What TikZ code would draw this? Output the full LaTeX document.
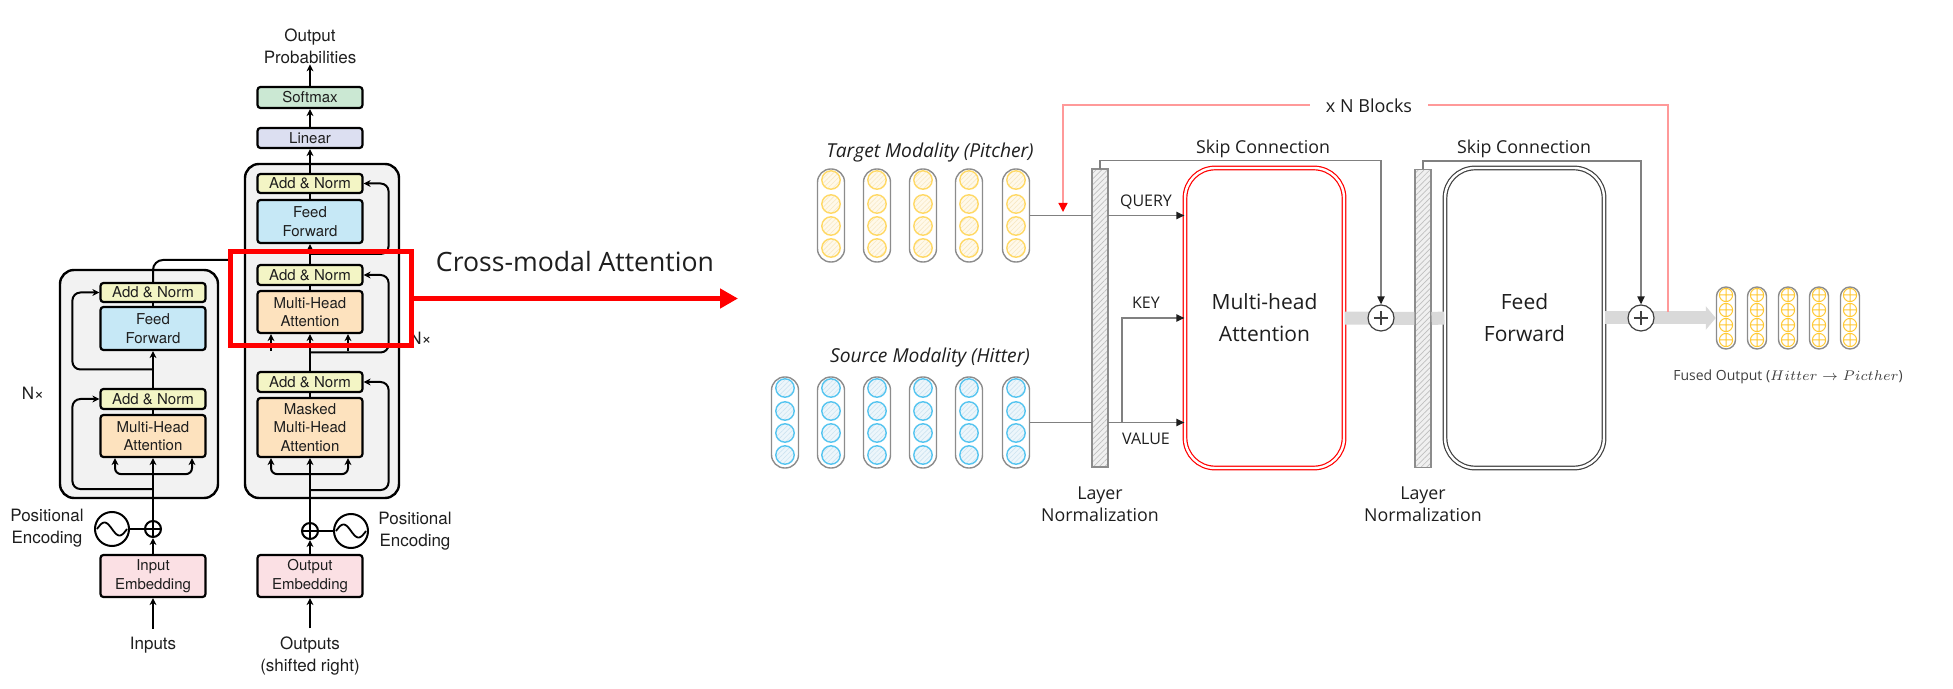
\documentclass[tikz,border=0pt]{standalone}
\usepackage{fontspec}
\newfontfamily\heros{TeX Gyre Heros}
\newfontfamily\opensans{Open Sans}
\usepackage{tikz}
\usetikzlibrary{arrows.meta,positioning,calc,patterns.meta}

\definecolor{stackgrey}{HTML}{F2F2F2}
\definecolor{annorm}{HTML}{F3F5C5}
\definecolor{ffblue}{HTML}{C6E8F6}
\definecolor{attorange}{HTML}{FDE2BE}
\definecolor{embpink}{HTML}{FBE0E4}
\definecolor{smgreen}{HTML}{CBE8D3}
\definecolor{linlav}{HTML}{DCDFF1}
\definecolor{txtdark}{HTML}{1E1E1E}
\definecolor{skipgrey}{HTML}{808080}
\definecolor{bandgrey}{HTML}{D9D9D9}
\definecolor{blockred}{HTML}{FF9999}
\definecolor{pillgrey}{HTML}{8C8C8C}
\definecolor{pitchyel}{HTML}{FFD966}
\definecolor{pitchfill}{HTML}{FFF9EA}
\definecolor{pitchhatch}{HTML}{F8E8C2}
\definecolor{hitblue}{HTML}{56C5F0}
\definecolor{hitfill}{HTML}{EDF6FB}
\definecolor{hithatch}{HTML}{CDE4F1}
\definecolor{barfill}{HTML}{F0F0F0}
\definecolor{barhatch}{HTML}{BFBFBF}
\definecolor{ffgrey}{HTML}{404040}
\definecolor{fuseorange}{HTML}{FFC933}

\tikzset{
    stackbox/.style={
        draw,
        line width=1.2pt,
        rounded corners=7pt,
        fill=stackgrey
    },
    layerbox/.style={
        draw,
        line width=1.1pt,
        rounded corners=1.5pt,
        minimum width=52.5pt,
        inner sep=0pt,
        align=center,
        text=txtdark,
        font=\heros\fontsize{7.5}{9.2}\selectfont
    },
    tflabel/.style={
        align=center,
        inner sep=0pt,
        text=txtdark,
        font=\heros\fontsize{8.5}{11}\selectfont
    },
    addcirc/.style={
        circle,
        draw,
        line width=1pt,
        minimum size=8pt,
        inner sep=0pt,
        fill=white,
        path picture={
            \draw[line width=0.8pt] (path picture bounding box.west) -- (path picture bounding box.east)
                (path picture bounding box.north) -- (path picture bounding box.south);
        }
    },
    sinebox/.style={
        circle,
        draw,
        line width=1pt,
        minimum size=17pt,
        inner sep=0pt,
        fill=white,
        path picture={
            \draw[line width=0.9pt, shift={(path picture bounding box.center)}]
                plot[domain=0:360, samples=30, smooth] ({(\x-180)/360*30}, {-6.5*sin(\x)});
        }
    },
    tfline/.style={
        line width=1pt
    },
    tfarrow/.style={
        -{Stealth[length=3.5pt,width=3.4pt]},
        line width=1pt
    },
    pillbox/.style={
        draw=pillgrey,
        line width=0.7pt,
        rounded corners=6.6pt,
        minimum width=13.5pt,
        inner sep=0pt,
        fill=white
    },
    pitchdot/.style={
        draw=pitchyel,
        line width=0.7pt,
        preaction={fill=pitchfill},
        pattern={Lines[angle=45,distance=1.7pt,line width=0.3pt]},
        pattern color=pitchhatch
    },
    hitdot/.style={
        draw=hitblue,
        line width=0.7pt,
        preaction={fill=hitfill},
        pattern={Lines[angle=45,distance=1.7pt,line width=0.3pt]},
        pattern color=hithatch
    },
    fusedot/.style={
        draw=fuseorange,
        line width=0.5pt
    },
    normbar/.style={
        draw=pillgrey,
        line width=0.6pt,
        minimum width=8pt,
        minimum height=149pt,
        inner sep=0pt,
        preaction={fill=barfill},
        pattern={Lines[angle=45,distance=2pt,line width=0.35pt]},
        pattern color=barhatch
    },
    blockbox/.style={
        double=white,
        double distance=1.2pt,
        line width=0.6pt,
        rounded corners=15pt,
        minimum width=79.5pt,
        minimum height=150pt,
        align=center,
        text=txtdark,
        font=\opensans\fontsize{10.5}{16}\selectfont
    },
    plusnode/.style={
        circle,
        draw=ffgrey,
        line width=0.6pt,
        minimum size=13pt,
        inner sep=0pt,
        fill=white,
        path picture={
            \draw[line width=0.7pt] (path picture bounding box.center) ++(-3.6pt,0) -- ++(7.2pt,0)
                (path picture bounding box.center) ++(0,-3.6pt) -- ++(0,7.2pt);
        }
    },
    rtext/.style={
        align=center,
        inner sep=0pt,
        text=txtdark,
        font=\opensans\fontsize{8.9}{10.8}\selectfont
    },
    skipline/.style={
        draw=skipgrey,
        line width=0.7pt
    },
    skiparrow/.style={
        draw=skipgrey,
        line width=0.7pt,
        -{Triangle[length=4pt,width=3.6pt,color=txtdark]}
    },
    band/.style={
        draw=bandgrey,
        line width=6.5pt
    }
}

\begin{document}
\begin{tikzpicture}[x=0.5pt, y=-0.5pt]
    \useasboundingbox (0,0) rectangle (1953,689);

    \node[stackbox, minimum width=79pt, minimum height=114pt] (encstack) at (139,384) {};
    \node[stackbox, minimum width=77pt, minimum height=167pt] (decstack) at (322,331) {};

    \node[layerbox, fill=annorm, minimum height=9.5pt] (encan2) at (153,292.5) {Add \& Norm};
    \node[layerbox, fill=ffblue, minimum height=21.5pt] (encff) at (153,328.5) {Feed\\Forward};
    \node[layerbox, fill=annorm, minimum height=10pt] (encan1) at (153,399) {Add \& Norm};
    \node[layerbox, fill=attorange, minimum height=21pt] (encmha) at (153,436) {Multi-Head\\Attention};
    \node[addcirc] (encadd) at (153,529) {};
    \node[sinebox] (encpe) at (112,529) {};
    \node[layerbox, fill=embpink, minimum height=21pt] (inemb) at (153,576) {Input\\Embedding};
    \node[tflabel] (inlbl) at (153,645) {Inputs};
    \node[tflabel] (encpelbl) at (47,528) {Positional\\Encoding};
    \node[tflabel] (encnx) at (33,393) {N×};

    \node[layerbox, fill=smgreen, minimum height=10.5pt] (softmax) at (310,97.5) {Softmax};
    \node[layerbox, fill=linlav, minimum height=10pt] (linear) at (310,138) {Linear};
    \node[layerbox, fill=annorm, minimum height=9.5pt] (decan3) at (310,183.5) {Add \& Norm};
    \node[layerbox, fill=ffblue, minimum height=21.5pt] (decff) at (310,221.5) {Feed\\Forward};
    \node[layerbox, fill=annorm, minimum height=10pt] (decan2) at (310,275) {Add \& Norm};
    \node[layerbox, fill=attorange, minimum height=21pt] (decmha) at (310,312) {Multi-Head\\Attention};
    \node[layerbox, fill=annorm, minimum height=10pt] (decan1) at (310,382) {Add \& Norm};
    \node[layerbox, fill=attorange, minimum height=29.5pt] (decmmha) at (310,427.5) {Masked\\Multi-Head\\Attention};
    \node[addcirc] (decadd) at (310,531) {};
    \node[sinebox] (decpe) at (351,531) {};
    \node[layerbox, fill=embpink, minimum height=21pt] (outemb) at (310,576) {Output\\Embedding};
    \node[tflabel] (outlbl) at (310,656) {Outputs\\(shifted right)};
    \node[tflabel] (outprob) at (310,46.5) {Output\\Probabilities};
    \node[tflabel] (decpelbl) at (415,531) {Positional\\Encoding};
    \node[tflabel, anchor=west] (decnx) at (409,338) {N×};

    \draw[tfarrow, shorten <=4pt] (inlbl) -- (inemb);
    \draw[tfarrow] (inemb) -- (encadd);
    \draw[tfline] (encpe) -- (encadd);
    \draw[tfarrow] (encadd) -- (encmha);
    \draw[tfarrow, rounded corners=3pt] ([yshift=-8pt]encmha.south) -| ([xshift=-19pt]encmha.south);
    \draw[tfarrow, rounded corners=3pt] ([yshift=-8pt]encmha.south) -| ([xshift=19.5pt]encmha.south);
    \draw[tfline] (encmha) -- (encan1);
    \draw[tfarrow] (encan1) -- (encff);
    \draw[tfline] (encff) -- (encan2);
    \draw[tfarrow, rounded corners=4pt] ($(encmha.south)!.5!(encadd.north)$) -| ([xshift=-13.5pt]encan1.west) -- (encan1.west);
    \draw[tfarrow, rounded corners=4pt] ($(encan1.north)!.5!(encff.south)$) -| ([xshift=-13.5pt]encan2.west) -- (encan2.west);
    \coordinate (encout) at (229,260);
    \draw[tfline, rounded corners=5pt] (encan2.north) |- (encout);

    \draw[tfarrow, shorten <=4pt] (outlbl) -- (outemb);
    \draw[tfarrow] (outemb) -- (decadd);
    \draw[tfline] (decadd) -- (decpe);
    \draw[tfarrow] (decadd) -- (decmmha);
    \draw[tfarrow, rounded corners=3pt] ([yshift=-8pt]decmmha.south) -| ([xshift=-19.5pt]decmmha.south);
    \draw[tfarrow, rounded corners=3pt] ([yshift=-8pt]decmmha.south) -| ([xshift=19pt]decmmha.south);
    \draw[tfline] (decmmha) -- (decan1);
    \draw[tfarrow] (decan1) -- (decmha);
    \draw[tfarrow] ([xshift=-19.5pt,yshift=-8.5pt]decmha.south) -- ([xshift=-19.5pt]decmha.south);
    \draw[tfarrow] ([xshift=19pt,yshift=-8.5pt]decmha.south) -- ([xshift=19pt]decmha.south);
    \draw[tfline] (decmha) -- (decan2);
    \draw[tfarrow] (decan2) -- (decff);
    \draw[tfline] (decff) -- (decan3);
    \draw[tfarrow] (decan3) -- (linear);
    \draw[tfarrow] (linear) -- (softmax);
    \draw[tfarrow] (softmax) -- (outprob);
    \draw[tfarrow, rounded corners=4pt] ($(decmmha.south)!.5!(decadd.north)$) -| ([xshift=12.5pt]decan1.east) -- (decan1.east);
    \draw[tfarrow, rounded corners=4pt] ($(decan1.north)!.5!(decmha.south)$) -| ([xshift=12.5pt]decan2.east) -- (decan2.east);
    \draw[tfarrow, rounded corners=4pt] ($(decan2.north)!.5!(decff.south)$) -| ([xshift=12.5pt]decan3.east) -- (decan3.east);

    \node[draw=red, line width=2.5pt, minimum width=90.5pt, minimum height=47pt, inner sep=0pt] (xframe) at (321,298.5) {};
    \coordinate (xtip) at (738,298.5);
    \draw[red, line width=2.5pt, -{Triangle[length=9pt,width=9.5pt]}] (xframe.east) -- (xtip);
    \node[text=txtdark, inner sep=0pt, font=\opensans\fontsize{13.3}{15}\selectfont] (xlbl) at (575,262) {Cross-modal Attention};

    \node[rtext, font=\opensans\itshape\fontsize{9.6}{11}\selectfont] (tgtlbl) at (930,153) {Target Modality (Pitcher)};
    \foreach \i/\cx in {1/831,2/877,3/923,4/969,5/1016}{
        \node[pillbox, minimum height=46.5pt] (tp\i) at (\cx,215.5) {};
        \foreach \cy in {180,204,226,248}
            \draw[pitchdot] (\cx,\cy) circle[radius=4.6pt];
    }
    \node[rtext, font=\opensans\itshape\fontsize{9.6}{11}\selectfont] (srclbl) at (930,358) {Source Modality (Hitter)};
    \foreach \i/\cx in {1/785,2/831,3/877,4/923,5/969,6/1016}{
        \node[pillbox, minimum height=45.5pt] (hp\i) at (\cx,422.5) {};
        \foreach \cy in {388,411,433,455}
            \draw[hitdot] (\cx,\cy) circle[radius=4.6pt];
    }

    \node[normbar] (ln1) at (1100,318) {};
    \node[normbar] (ln2) at (1423,318.5) {};
    \node[blockbox, draw=red] (attn) at (1264.5,318) {Multi-head\\Attention};
    \node[blockbox, draw=ffgrey] (ffn) at (1524.5,318) {Feed\\Forward};
    \node[rtext] (ln1lbl) at (1100,504) {Layer\\Normalization};
    \node[rtext] (ln2lbl) at (1423,504) {Layer\\Normalization};

    \foreach \i/\cx in {1/1726,2/1757,3/1788,4/1819,5/1850}{
        \node[pillbox, minimum height=31pt, minimum width=9.5pt, rounded corners=4.7pt] (fo\i) at (\cx,318) {};
        \foreach \cy in {295,310,325,340}
            \draw[fusedot] (\cx,\cy) circle[radius=3.3pt]
                ([xshift=-3.3pt]\cx,\cy) -- ([xshift=3.3pt]\cx,\cy)
                ([yshift=-3.3pt]\cx,\cy) -- ([yshift=3.3pt]\cx,\cy);
    }
    \node[rtext, text=ffgrey, font=\opensans\fontsize{7}{8}\selectfont] (fuselbl) at (1788,377) {Fused Output ($Hitter \rightarrow Picther$)};

    \draw[band] (attn.east) -- (ln2.west);
    \draw[band] (ln2.east) -- (ffn.west);
    \draw[band, -{Triangle[length=5pt,width=11.5pt]}] (ffn.east) -- (fo1.west);
    \node[plusnode] (add1) at (1381,318) {};
    \node[plusnode] (add2) at (1641,318) {};

    \draw[skipline] (tp5.east) -- (ln1.west |- tp5.east);
    \draw[skiparrow] (ln1.east |- tp5.east) -- (attn.west |- tp5.east);
    \draw[skipline] (hp6.east) -- (ln1.west |- hp6.east);
    \draw[skiparrow] (ln1.east |- hp6.east) -- (attn.west |- hp6.east);
    \coordinate (kvsplit) at (1122,422.5);
    \draw[skiparrow] (kvsplit) |- (attn.west);
    \node[rtext, font=\opensans\fontsize{8}{9}\selectfont] (qlbl) at (1146,202) {QUERY};
    \node[rtext, font=\opensans\fontsize{8}{9}\selectfont] (klbl) at (1146,303) {KEY};
    \node[rtext, font=\opensans\fontsize{8}{9}\selectfont] (vlbl) at (1146,439) {VALUE};

    \draw[skiparrow] (ln1.north) -- ++(0,-8) -| (add1.north);
    \draw[skiparrow] (ln2.north) -- ++(0,-8) -| (add2.north);
    \node[rtext] (skip1lbl) at (1263,149) {Skip Connection};
    \node[rtext] (skip2lbl) at (1524,149) {Skip Connection};

    \coordinate (blkstart) at (1668,312);
    \coordinate (blkend) at (1063,212);
    \draw[draw=blockred, line width=0.7pt, -{Triangle[length=4.5pt,width=4.5pt,color=red]}] (blkstart) -- ++(0,-207) -| (blkend);
    \node[rtext, fill=white, inner xsep=8pt, inner ysep=2pt, font=\opensans\fontsize{9}{10}\selectfont] (blklbl) at (1369,106) {x N Blocks};
\end{tikzpicture}
\end{document}
